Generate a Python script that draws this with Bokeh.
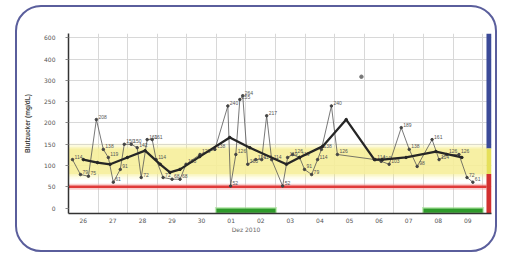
import numpy as np
import pandas as pd
from bokeh.plotting import figure
from bokeh.models import FixedTicker, Range1d, LinearAxis
from bokeh.embed import file_html
from bokeh.resources import INLINE

# ---- data ----
start_date = "2010-11-26"
day_labels = ["26", "27", "28", "29", "30", "01", "02", "03", "04", "05", "06", "07", "08", "09"]
month_label = "Dez 2010"
y_tick_values = [0, 50, 100, 150, 200, 250, 300, 400, 600]
y_tick_labels = ["0", "50", "100", "150", "200", "250", "300", "400", "600"]

reading_times = [
    "2010-11-26 03:15", "2010-11-26 09:42", "2010-11-26 16:10", "2010-11-26 22:37",
    "2010-11-27 04:16", "2010-11-27 08:19", "2010-11-27 12:22", "2010-11-27 18:01",
    "2010-11-27 21:15", "2010-11-28 02:54", "2010-11-28 07:45", "2010-11-28 11:00",
    "2010-11-28 15:50", "2010-11-28 19:55", "2010-11-28 23:07", "2010-11-29 04:46",
    "2010-11-29 12:03", "2010-11-29 18:30", "2010-11-29 23:21", "2010-11-30 10:39",
    "2010-11-30 22:47", "2010-12-01 09:17", "2010-12-01 11:30", "2010-12-01 15:46",
    "2010-12-01 19:00", "2010-12-01 21:22", "2010-12-02 01:26", "2010-12-02 07:55",
    "2010-12-02 12:45", "2010-12-02 16:47", "2010-12-02 20:50", "2010-12-03 05:45",
    "2010-12-03 09:47", "2010-12-03 13:50", "2010-12-03 19:30", "2010-12-03 23:30",
    "2010-12-04 05:15", "2010-12-04 10:05", "2010-12-04 13:13", "2010-12-04 21:20",
    "2010-12-05 02:10", "2010-12-06 08:53", "2010-12-06 13:42", "2010-12-06 20:10",
    "2010-12-07 06:00", "2010-12-07 12:27", "2010-12-07 18:53", "2010-12-08 07:00",
    "2010-12-08 12:40", "2010-12-08 19:00", "2010-12-09 04:48", "2010-12-09 11:18",
    "2010-12-09 16:05",
]
reading_values = [
    114, 79, 75, 208,
    138, 119, 61, 91,
    150, 150, 142, 72,
    161, 161, 114, 72,
    68, 68, 103, 126,
    138, 240, 52, 126,
    255, 264, 103, 114,
    114, 217, 114, 52,
    119, 126, 119, 91,
    79, 114, 138, 240,
    126, 114, 110, 103,
    189, 138, 98, 161,
    114, 126, 126, 72,
    61,
]

single_time = ["2010-12-05 21:40"]
single_value = [317]

trend_times = [
    "2010-11-26 12:00", "2010-11-26 23:30", "2010-11-27 09:50", "2010-11-27 23:45",
    "2010-11-28 14:10", "2010-11-29 02:25", "2010-11-29 10:20", "2010-11-29 18:30",
    "2010-11-30 10:30", "2010-12-01 10:50", "2010-12-02 03:10", "2010-12-03 08:50",
    "2010-12-03 19:25", "2010-12-04 14:10", "2010-12-05 09:20", "2010-12-06 08:10",
    "2010-12-06 14:40", "2010-12-07 09:50", "2010-12-08 10:05", "2010-12-09 07:10",
]
trend_values = [114, 107, 103, 119, 135, 103, 84, 91, 121, 166, 142, 103, 119, 145, 208,
                114, 114, 119, 133, 119]

target_low, target_high = 80, 140
hypo_limit = 50
weekend_spans = [("2010-12-01", "2010-12-03"), ("2010-12-08", "2010-12-10")]


def to_days(ts):
    t0 = pd.Timestamp(start_date)
    return [(pd.Timestamp(t) - t0) / pd.Timedelta(days=1) for t in ts]


def to_pos(v):
    return np.interp(v, y_tick_values, list(range(len(y_tick_values))))


rx = to_days(reading_times)
ry = to_pos(reading_values)
tx = to_days(trend_times)
ty = to_pos(trend_values)

X_END = 14.3
BAR_L = 14.13

p = figure(width=482, height=247, output_backend="svg", toolbar_location=None,
           x_range=Range1d(0, X_END), y_range=Range1d(-0.25, 8.2),
           min_border_left=51, min_border_right=8, min_border_top=26, min_border_bottom=41)
p.styles = {"border": "2px solid #5a5e9c", "border-radius": "26px", "background": "white",
            "position": "absolute", "left": "15px", "top": "5px"}
p.outline_line_color = None
p.background_fill_color = "white"
p.border_fill_color = None

# target band with soft edges
band_lo, band_hi = to_pos(target_low), to_pos(target_high)
for k, a in [(0.25, 0.12), (0.15, 0.18), (0.07, 0.25)]:
    p.quad(left=0, right=BAR_L, bottom=band_lo - k, top=band_hi + k, fill_color="#f4ec7a",
           fill_alpha=a, line_color=None)
p.quad(left=0, right=BAR_L, bottom=band_lo, top=band_hi, fill_color="#f6ef9c", fill_alpha=0.8,
       line_color=None)

# grid
p.xgrid.ticker = FixedTicker(ticks=list(range(0, 15)))
p.ygrid.ticker = FixedTicker(ticks=list(range(1, 9)))
p.xgrid.grid_line_color = "#d8d8d8"
p.ygrid.grid_line_color = "#d8d8d8"
p.xgrid.level = "underlay"

# hypo line
hp = float(to_pos(hypo_limit))
p.line([0, BAR_L], [hp, hp], line_color="#f3a0a0", line_width=6, line_alpha=0.5)
p.line([0, BAR_L], [hp, hp], line_color="#e03a3a", line_width=2.5)

# weekend bars
for a, b in weekend_spans:
    d0, d1 = to_days([a, b])
    p.quad(left=d0 - 0.05, right=d1 + 0.05, bottom=-0.27, top=0.05, fill_color="#9be08a",
           fill_alpha=0.6, line_color=None)
    p.quad(left=d0, right=d1, bottom=-0.22, top=-0.02, fill_color="#2e9a2a",
           line_color=None)

# right-side range bar
p.quad(left=BAR_L, right=X_END, bottom=band_hi, top=8.2, fill_color="#3b4a98", line_color=None)
p.quad(left=BAR_L, right=X_END, bottom=band_lo, top=band_hi, fill_color="#e6e05a", line_color=None)
p.quad(left=BAR_L, right=X_END, bottom=-0.25, top=band_lo, fill_color="#d23030", line_color=None)

# readings
p.line(rx, ry, line_color="#555555", line_width=0.8)
p.scatter(rx, ry, size=2.5, color="#444444")
p.text(x=rx, y=ry, text=[str(v) for v in reading_values], text_font_size="5px",
       text_color="#555555", x_offset=2, y_offset=-1, text_baseline="bottom")
sx = to_days(single_time)
p.scatter(sx, to_pos(single_value), size=3.5, color="#777777")

# trend
p.line(tx, ty, line_color="#262626", line_width=2.3)
p.scatter(tx, ty, size=2.5, color="#262626")

# axes
p.xaxis.ticker = FixedTicker(ticks=[i + 0.5 for i in range(14)])
p.xaxis.major_label_overrides = {i + 0.5: lab for i, lab in enumerate(day_labels)}
p.yaxis.ticker = FixedTicker(ticks=list(range(9)))
p.yaxis.major_label_overrides = {i: lab for i, lab in enumerate(y_tick_labels)}
for ax in (p.xaxis[0], p.yaxis[0]):
    ax.major_label_text_font_size = "6px"
    ax.major_label_text_color = "#555555"
    ax.axis_line_color = "#333333"
    ax.axis_line_width = 1.5
    ax.minor_tick_line_color = None
    ax.major_tick_line_color = "#888888"
    ax.major_tick_in = 0
    ax.major_tick_out = 3
    ax.major_label_text_font = "DejaVu Sans"
p.xaxis.major_tick_line_color = None
p.xaxis.major_tick_out = 0
p.xaxis.major_label_standoff = 4
p.yaxis.major_label_standoff = 10
p.yaxis.axis_label = "Blutzucker (mg/dL)"
p.yaxis.axis_label_text_font_size = "6.5px"
p.yaxis.axis_label_text_font_style = "bold"
p.yaxis.axis_label_text_color = "#444444"
p.yaxis.axis_label_standoff = 10

month_axis = LinearAxis(ticker=FixedTicker(ticks=[6.0]),
                        major_label_overrides={6.0: month_label})
month_axis.axis_line_color = None
month_axis.major_tick_line_color = None
month_axis.minor_tick_line_color = None
month_axis.major_tick_in = 0
month_axis.major_tick_out = 0
month_axis.major_label_standoff = 0
month_axis.major_label_text_font_size = "6px"
month_axis.major_label_text_color = "#666666"
month_axis.major_label_text_font = "DejaVu Sans"
p.add_layout(month_axis, "below")

open("out.html", "w").write(file_html(p, INLINE))
